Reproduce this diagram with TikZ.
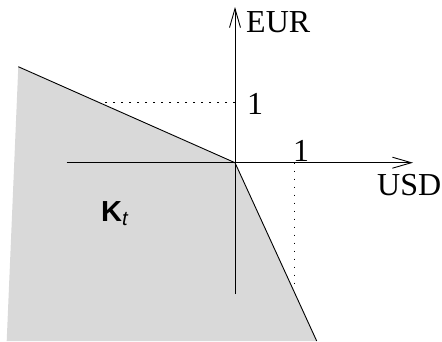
\documentclass[tikz,border=0pt]{standalone}
\usepackage{fontspec}
\setmainfont{Liberation Serif}
\setsansfont{Liberation Sans}
\usetikzlibrary{arrows.meta}
\definecolor{conegray}{gray}{0.85}

\begin{document}
\begin{tikzpicture}[
  x=1pt, y=-1pt,
  lbl/.style={inner sep=0pt, font=\fontsize{32}{34}\selectfont},
  conelbl/.style={inner sep=0pt, font=\fontsize{29}{31}\selectfont\sffamily},
  axis/.style={line width=0.9pt, -{Straight Barb[length=19pt, width=11pt, line width=0.9pt]}},
  edge/.style={line width=0.9pt},
  guide/.style={line width=1pt, dash pattern=on 1.6pt off 6.4pt}
]
\useasboundingbox (0,0) rectangle (442,341);
% the cone K_t
\coordinate (o) at (235,162.7);
\coordinate (tl) at (18.3,66.7);
\coordinate (br) at (316.7,341);
\coordinate (bl) at (6.7,341);
\fill[conegray] (tl) -- (o) -- (br) -- (bl) -- cycle;
\draw[edge] (tl) -- (o) -- (br);
% axes
\coordinate (xs) at (66.7,162.7);
\coordinate (xe) at (413,162.7);
\coordinate (ys) at (235,294);
\coordinate (ye) at (235,7);
\draw[axis] (xs) -- (xe);
\draw[axis] (ys) -- (ye);
% unit guides
\coordinate (eurone) at (235,102.7);
\coordinate (eurcut) at (105,102.7);
\coordinate (usdone) at (294.3,162.7);
\coordinate (usdcut) at (294.3,284);
\draw[guide] (eurone) -- (eurcut);
\draw[guide] (usdone) -- (usdcut);
% labels
\node[lbl, anchor=base west] (eur) at (246,32) {EUR};
\node[lbl, anchor=base west] (usd) at (377,195) {USD};
\node[lbl, anchor=base west] (eurlbl) at (247,114) {1};
\node[lbl, anchor=base] (usdlbl) at (301,161) {1};
\node[conelbl, anchor=base west] (cone) at (101,221) {\bfseries K\textsubscript{\mdseries\itshape t}};
\end{tikzpicture}
\end{document}
